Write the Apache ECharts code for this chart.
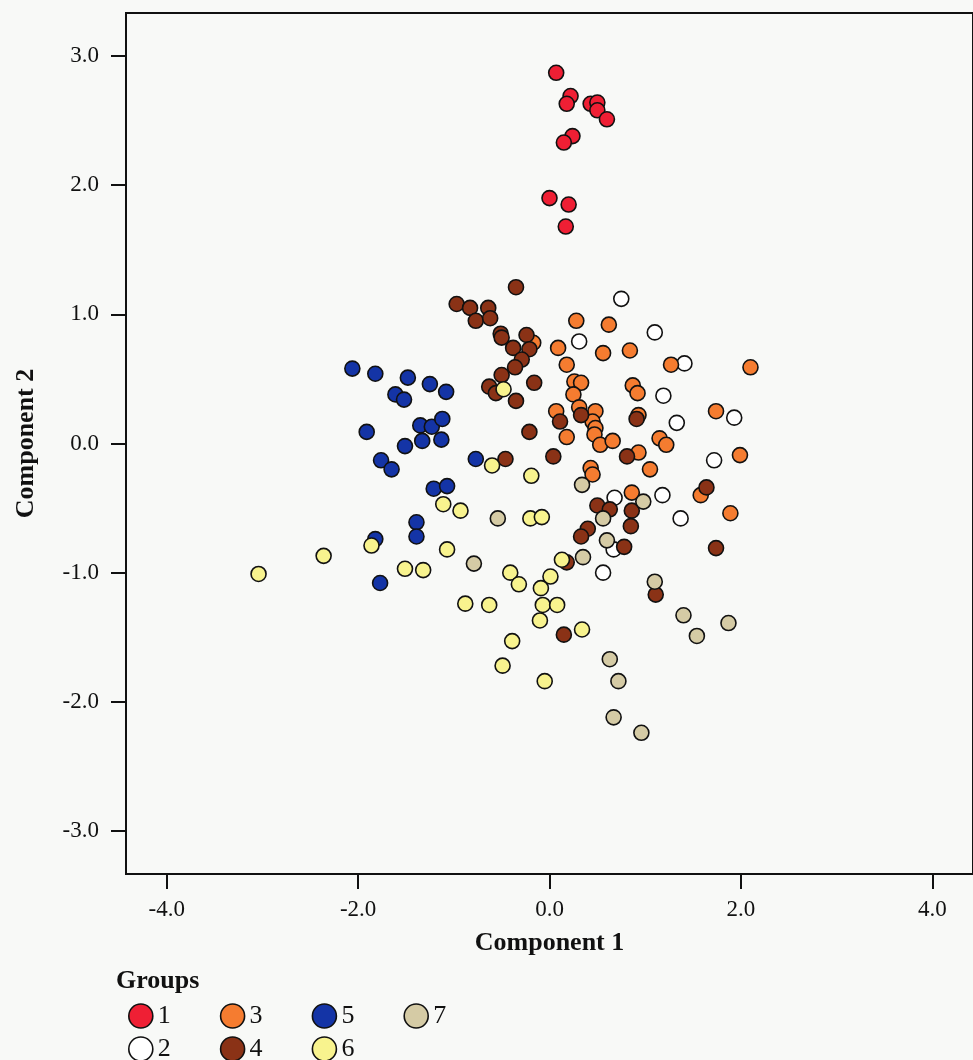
<!DOCTYPE html>
<html>
<head>
<meta charset="utf-8">
<script src="https://cdn.jsdelivr.net/npm/echarts@6/dist/echarts.min.js"></script>
<style>
  html, body { margin: 0; padding: 0; background: #f8f9f7; }
  #main { width: 973px; height: 1060px; }
</style>
</head>
<body>
<div id="main"></div>
<script>
// 分组名称
const groupNames = ['1', '2', '3', '4', '5', '6', '7'];

// 分组颜色
const groupColors = ['#ef1f34', '#ffffff', '#f57c30', '#8a3216', '#1434a6', '#f8f38e', '#d5cba5'];

// 各组的点 [Component 1, Component 2]
const group1 = [
  [0.07, 2.87], [0.22, 2.69], [0.18, 2.63], [0.43, 2.63], [0.50, 2.64], [0.50, 2.58],
  [0.60, 2.51], [0.24, 2.38], [0.15, 2.33], [0.00, 1.90], [0.20, 1.85], [0.17, 1.68]
];
const group2 = [
  [0.75, 1.12], [1.10, 0.86], [0.31, 0.79], [1.41, 0.62], [1.19, 0.37], [1.93, 0.20],
  [1.33, 0.16], [1.72, -0.13], [0.68, -0.42], [1.18, -0.40], [1.37, -0.58], [0.67, -0.82],
  [0.56, -1.00]
];
const group3 = [
  [0.28, 0.95], [0.62, 0.92], [0.09, 0.74], [0.56, 0.70], [0.84, 0.72], [0.18, 0.61],
  [1.27, 0.61], [2.10, 0.59], [0.26, 0.48], [0.33, 0.47], [0.25, 0.38], [0.87, 0.45],
  [0.92, 0.39], [0.07, 0.25], [0.31, 0.28], [0.48, 0.25], [0.45, 0.17], [0.48, 0.12],
  [0.47, 0.07], [0.93, 0.22], [1.74, 0.25], [0.18, 0.05], [0.53, -0.01], [0.66, 0.02],
  [1.15, 0.04], [1.22, -0.01], [0.93, -0.07], [1.99, -0.09], [1.05, -0.20], [0.43, -0.19],
  [0.45, -0.24], [0.86, -0.38], [1.58, -0.40], [1.89, -0.54], [-0.17, 0.78]
];
const group4 = [
  [-0.35, 1.21], [-0.97, 1.08], [-0.83, 1.05], [-0.64, 1.05], [-0.77, 0.95], [-0.62, 0.97],
  [-0.51, 0.85], [-0.50, 0.82], [-0.24, 0.84], [-0.38, 0.74], [-0.21, 0.73], [-0.29, 0.65],
  [-0.36, 0.59], [-0.50, 0.53], [-0.63, 0.44], [-0.56, 0.39], [-0.16, 0.47], [-0.35, 0.33],
  [-0.21, 0.09], [-0.46, -0.12], [0.04, -0.10], [0.11, 0.17], [0.33, 0.22], [0.91, 0.19],
  [0.81, -0.10], [1.64, -0.34], [0.50, -0.48], [0.63, -0.51], [0.86, -0.52], [0.85, -0.64],
  [0.40, -0.66], [0.33, -0.72], [0.78, -0.80], [1.74, -0.81], [1.11, -1.17], [0.15, -1.48],
  [0.18, -0.92]
];
const group5 = [
  [-2.06, 0.58], [-1.82, 0.54], [-1.48, 0.51], [-1.25, 0.46], [-1.08, 0.40], [-1.61, 0.38],
  [-1.52, 0.34], [-1.91, 0.09], [-1.35, 0.14], [-1.23, 0.13], [-1.12, 0.19], [-1.33, 0.02],
  [-1.13, 0.03], [-1.51, -0.02], [-1.76, -0.13], [-1.65, -0.20], [-0.77, -0.12], [-1.21, -0.35],
  [-1.07, -0.33], [-1.39, -0.61], [-1.39, -0.72], [-1.82, -0.74], [-1.77, -1.08]
];
const group6 = [
  [-0.60, -0.17], [-0.19, -0.25], [-1.11, -0.47], [-0.93, -0.52], [-0.20, -0.58], [-0.08, -0.57],
  [-1.07, -0.82], [-1.86, -0.79], [-2.36, -0.87], [-3.04, -1.01], [-1.51, -0.97], [-1.32, -0.98],
  [-0.41, -1.00], [-0.32, -1.09], [0.01, -1.03], [-0.09, -1.12], [-0.88, -1.24], [-0.63, -1.25],
  [-0.07, -1.25], [-0.10, -1.37], [-0.39, -1.53], [-0.48, 0.42], [0.13, -0.90], [0.08, -1.25],
  [0.34, -1.44], [-0.49, -1.72], [-0.05, -1.84]
];
const group7 = [
  [-0.54, -0.58], [-0.79, -0.93], [0.34, -0.32], [0.98, -0.45], [0.56, -0.58], [0.60, -0.75],
  [0.35, -0.88], [1.10, -1.07], [1.40, -1.33], [1.87, -1.39], [1.54, -1.49], [0.63, -1.67],
  [0.72, -1.84], [0.67, -2.12], [0.96, -2.24]
];
const groupData = [group1, group2, group3, group4, group5, group6, group7];

// 刻度
const xTicks = [-4, -2, 0, 2, 4];
const yTicks = [-3, -2, -1, 0, 1, 2, 3];

// 图例两行
const legendRow1 = ['1', '3', '5', '7'];
const legendRow2 = ['2', '4', '6'];

const chart = echarts.init(document.getElementById('main'));

const font = '"Liberation Serif", "DejaVu Serif", serif';

const legendBase = {
  orient: 'horizontal',
  left: 128,
  padding: 0,
  itemWidth: 24,
  itemHeight: 24,
  itemGap: 49,
  icon: 'circle',
  textStyle: { fontFamily: font, fontSize: 26, color: '#111', lineHeight: 24 },
  itemStyle: { borderColor: '#111', borderWidth: 1.6 }
};

const series = groupNames.map((name, i) => ({
  name,
  type: 'scatter',
  data: groupData[i],
  symbolSize: 15,
  itemStyle: {
    color: groupColors[i],
    borderColor: '#111',
    borderWidth: 1.6,
    opacity: 1
  },
  emphasis: { disabled: true }
}));

chart.setOption({
  backgroundColor: '#f8f9f7',
  animation: false,
  title: {
    text: 'Groups',
    left: 116,
    top: 968,
    padding: 0,
    textStyle: { fontFamily: font, fontSize: 26, fontWeight: 'bold', color: '#111' }
  },
  legend: [
    Object.assign({}, legendBase, { data: legendRow1, top: 1003 }),
    Object.assign({}, legendBase, { data: legendRow2, top: 1036 })
  ],
  grid: {
    left: 126,
    top: 13,
    width: 855,
    height: 861,
    show: true,
    borderColor: '#111',
    borderWidth: 2,
    backgroundColor: 'transparent'
  },
  xAxis: {
    type: 'value',
    min: -4.425,
    max: 4.425,
    name: 'Component 1',
    nameLocation: 'middle',
    nameGap: 56,
    nameTextStyle: { fontFamily: font, fontSize: 26, fontWeight: 'bold', color: '#111' },
    axisLine: { show: true, onZero: false, lineStyle: { color: '#111', width: 2 } },
    axisTick: { show: true, customValues: xTicks, length: 15, lineStyle: { color: '#111', width: 2 } },
    axisLabel: {
      customValues: xTicks,
      formatter: v => v.toFixed(1),
      margin: 24,
      fontFamily: font,
      fontSize: 23,
      color: '#111'
    },
    splitLine: { show: false }
  },
  yAxis: {
    type: 'value',
    min: -3.333,
    max: 3.333,
    name: 'Component 2',
    nameLocation: 'middle',
    nameGap: 87,
    nameTextStyle: { fontFamily: font, fontSize: 26, fontWeight: 'bold', color: '#111' },
    axisLine: { show: true, onZero: false, lineStyle: { color: '#111', width: 2 } },
    axisTick: { show: true, customValues: yTicks, length: 15, lineStyle: { color: '#111', width: 2 } },
    axisLabel: {
      customValues: yTicks,
      formatter: v => v.toFixed(1),
      margin: 27,
      fontFamily: font,
      fontSize: 23,
      color: '#111'
    },
    splitLine: { show: false }
  },
  series
});
</script>
</body>
</html>
